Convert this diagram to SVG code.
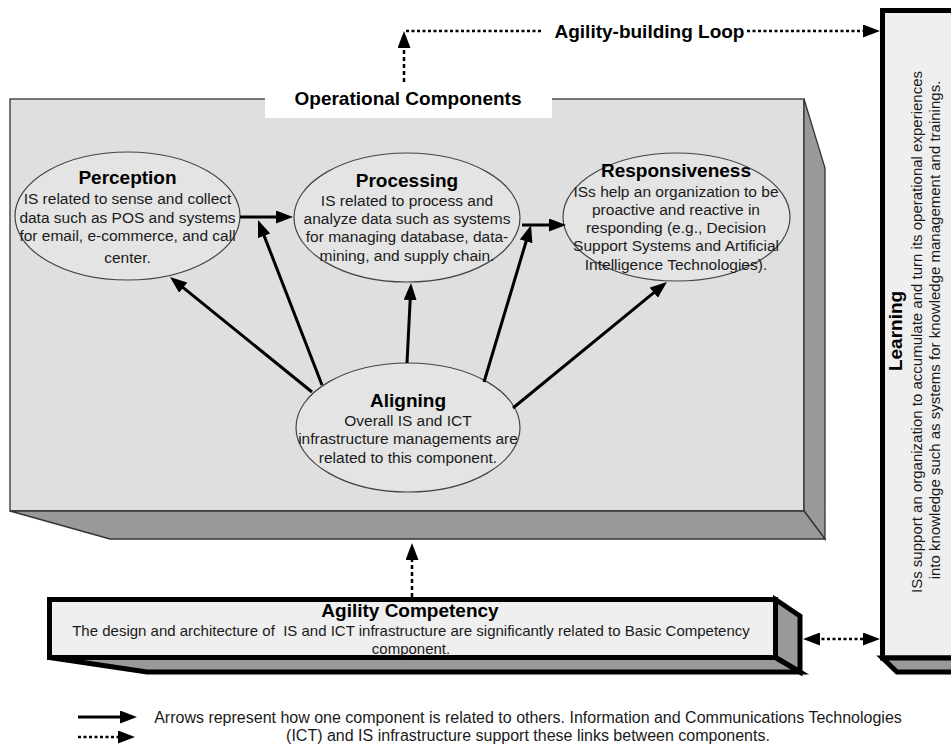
<svg xmlns="http://www.w3.org/2000/svg" width="951" height="746" viewBox="0 0 951 746">
<defs>
<marker id="ah" markerUnits="userSpaceOnUse" markerWidth="17" markerHeight="13" viewBox="0 0 17 13" refX="4" refY="6.5" orient="auto-start-reverse"><path d="M0,0 L17,6.5 L0,13 z" fill="#000"/></marker>
</defs>
<style>
text{font-family:"Liberation Sans",Arial,sans-serif;fill:#1a1a1a}
.t{font-size:19px;font-weight:bold;text-anchor:middle;fill:#000}
.b{font-size:15.5px;text-anchor:middle}
.c{font-size:15px;text-anchor:middle}
.lg{font-size:16px;text-anchor:middle}
.lb{font-size:15px;text-anchor:middle}
.face{fill:#dfdfdf;stroke:#333;stroke-width:1.3}
.side{fill:#999;stroke:#333;stroke-width:1.3}
.ell{fill:#e4e4e4;stroke:#444;stroke-width:1.2}
.thick{stroke:#000;stroke-width:5;stroke-linejoin:miter}
.light{fill:#efefef}
.dark{fill:#999}
.ar{stroke:#000;stroke-width:3;fill:none;marker-end:url(#ah)}
.dot{stroke:#000;stroke-width:2.5;fill:none;stroke-dasharray:3 2.5}
.dash{stroke:#000;stroke-width:2.5;fill:none;stroke-dasharray:4 3}
</style>
<rect width="951" height="746" fill="#fff"/>

<g id="operational-components">
<rect class="face" x="10" y="99" width="794" height="412"/>
<polygon class="side" points="804,99 825,168 825,539 804,511"/>
<polygon class="side" points="10,511 804,511 825,539 110,539"/>
<rect x="265" y="86" width="287" height="32" fill="#fff"/>
<text class="t" x="408" y="105">Operational Components</text>
</g>

<g id="perception">
<ellipse class="ell" cx="127.5" cy="216" rx="112.5" ry="64"/>
<text class="t" x="127.5" y="184">Perception</text>
<text class="b" x="127.5" y="203.5">IS related to sense and collect</text>
<text class="b" x="127.5" y="222.5">data such as POS and systems</text>
<text class="b" x="127.5" y="240.5">for email, e-commerce, and call</text>
<text class="b" x="127.5" y="262.5">center.</text>
</g>

<g id="processing">
<ellipse class="ell" cx="407" cy="217.5" rx="113" ry="64.5"/>
<text class="t" x="407" y="187">Processing</text>
<text class="b" x="407" y="205.5">IS related to process and</text>
<text class="b" x="407" y="223.5">analyze data such as systems</text>
<text class="b" x="407" y="242">for managing database, data-</text>
<text class="b" x="407" y="260.5">mining, and supply chain.</text>
</g>

<g id="responsiveness">
<ellipse class="ell" cx="676.5" cy="217" rx="113.5" ry="64"/>
<text class="t" x="676" y="177">Responsiveness</text>
<text class="b" x="676" y="196.5">ISs help an organization to be</text>
<text class="b" x="676" y="214.5">proactive and reactive in</text>
<text class="b" x="676" y="232.5">responding (e.g., Decision</text>
<text class="b" x="676" y="250.5">Support Systems and Artificial</text>
<text class="b" x="676" y="269.5">Intelligence Technologies).</text>
</g>

<g id="aligning">
<ellipse class="ell" cx="408" cy="427.5" rx="112" ry="64.5"/>
<text class="t" x="408" y="407">Aligning</text>
<text class="b" x="408" y="425.5">Overall IS and ICT</text>
<text class="b" x="408" y="443.5">infrastructure managements are</text>
<text class="b" x="408" y="462.5">related to this component.</text>
</g>

<g id="agility-competency">
<rect class="thick light" x="49.5" y="599.5" width="726" height="58"/>
<polygon class="thick dark" points="775.5,599.5 800,616 800,672 775.5,657.5"/>
<polygon class="thick dark" points="49.5,657.5 775.5,657.5 800,672 147,672"/>
<text class="t" x="410" y="617">Agility Competency</text>
<text class="c" x="411" y="635.5" xml:space="preserve">The design and architecture of  IS and ICT infrastructure are significantly related to Basic Competency</text>
<text class="c" x="411" y="653.5">component.</text>
</g>

<g id="learning">
<rect class="thick light" x="882.5" y="10.5" width="80" height="647.5"/>
<polygon class="thick dark" points="882.5,658 962,658 962,672 897,672"/>
<text class="t" transform="translate(902,331) rotate(-90)">Learning</text>
<text class="lb" transform="translate(922,332) rotate(-90)">ISs support an organization to accumulate and turn its operational experiences</text>
<text class="lb" transform="translate(940,330) rotate(-90)">into knowledge such as systems for knowledge management and trainings.</text>
</g>

<g id="connectors">
<line class="ar" x1="240" y1="217" x2="280" y2="217"/>
<line class="ar" x1="522" y1="225" x2="553" y2="225"/>
<line class="ar" x1="312" y1="392" x2="180.1" y2="285.2"/>
<line class="ar" x1="322" y1="385" x2="262.7" y2="232.1"/>
<line class="ar" x1="407" y1="363" x2="410.35" y2="296"/>
<line class="ar" x1="484" y1="382" x2="527.3" y2="237.5"/>
<line class="ar" x1="513" y1="408" x2="656.9" y2="290.2"/>
<line class="dash" x1="412" y1="597" x2="412" y2="556" marker-end="url(#ah)"/>
<line class="dot" x1="816" y1="639" x2="867" y2="639" marker-start="url(#ah)" marker-end="url(#ah)"/>
<line class="dash" x1="404" y1="82" x2="404" y2="44" marker-end="url(#ah)"/>
<line class="dot" x1="406" y1="31" x2="541" y2="31"/>
<text class="t" x="649.5" y="38">Agility-building Loop</text>
<line class="dot" x1="747" y1="31" x2="867" y2="31" marker-end="url(#ah)"/>
</g>

<g id="legend">
<line class="ar" x1="78" y1="717" x2="124" y2="717"/>
<line class="dot" x1="78" y1="737" x2="122" y2="737" marker-end="url(#ah)"/>
<text class="lg" x="528" y="722.5">Arrows represent how one component is related to others. Information and Communications Technologies</text>
<text class="lg" x="528" y="741">(ICT) and IS infrastructure support these links between components.</text>
</g>
</svg>
